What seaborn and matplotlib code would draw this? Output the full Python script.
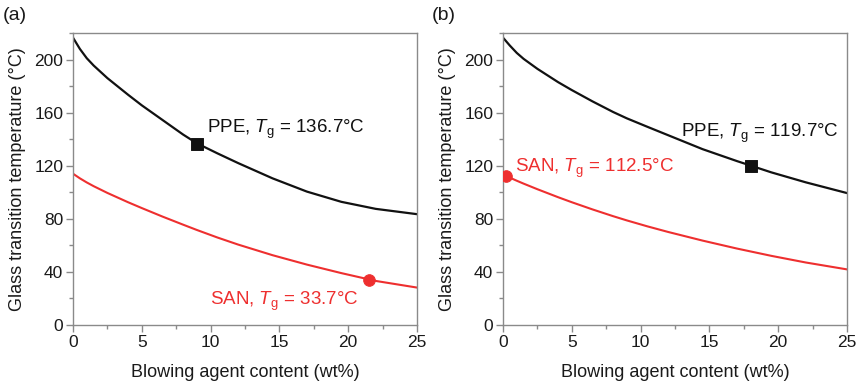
import matplotlib
matplotlib.use("Agg")
import matplotlib.pyplot as plt
import seaborn as sns
import pandas as pd
from matplotlib.ticker import MultipleLocator

# ---- data ----
x_grid = [0, 0.5, 1, 1.5, 2.5, 4, 5, 6.5, 8, 9, 10.5, 12, 14.5, 17, 19.5, 22, 25]

ppe_a = [216.5, 208, 201, 195.5, 186, 173.5, 165.5, 154.5, 143.5, 136.9, 129.3, 122, 110.5, 100.5, 92.8, 87.5, 83.5]
san_a = [114, 110.5, 107.4, 104.6, 99.5, 92.5, 88.1, 81.7, 75.6, 71.6, 65.9, 60.6, 52.6, 45.5, 39.1, 33.2, 28.2]
ppe_b = [216.5, 210.5, 205, 200.5, 193, 183, 177, 168.5, 160.5, 155.7, 149.3, 143, 132.5, 123.5, 115, 107.5, 99.4]
san_b = [113.5, 111, 108.7, 106.5, 102.3, 96.3, 92.5, 87.1, 82, 78.8, 74.3, 70.1, 63.6, 57.6, 52.1, 47.1, 41.9]

marker_a_ppe = (9.0, 136.7)
marker_a_san = (21.5, 33.7)
marker_b_ppe = (18.0, 119.7)
marker_b_san = (0.25, 112.5)

label_a_ppe = "136.7"
label_a_san = "33.7"
label_b_ppe = "119.7"
label_b_san = "112.5"

panel_labels = ["(a)", "(b)"]
xlabel = "Blowing agent content (wt%)"
ylabel = "Glass transition temperature (°C)"

# ---- style ----
sns.set_style("ticks")
plt.rcParams["font.family"] = ["Liberation Sans", "DejaVu Sans"]
plt.rcParams["mathtext.fontset"] = "custom"
plt.rcParams["mathtext.rm"] = "Liberation Sans"
plt.rcParams["mathtext.it"] = "Liberation Sans:italic"

RED = "#ee2f2f"
BLACK = "#111111"
SPINE = "#8a8a8a"
TXT = "#1a1a1a"

fig = plt.figure(figsize=(8.6, 3.89), dpi=100)
ax_a = fig.add_axes([73 / 860, 1 - 325 / 389, 344 / 860, 292 / 389])
ax_b = fig.add_axes([503 / 860, 1 - 325 / 389, 344 / 860, 292 / 389])

def draw(ax, ppe, san, mppe, msan):
    df = pd.DataFrame({"x": x_grid, "PPE": ppe, "SAN": san})
    sns.lineplot(data=df, x="x", y="PPE", ax=ax, color=BLACK, lw=1.6)
    sns.lineplot(data=df, x="x", y="SAN", ax=ax, color=RED, lw=1.5)
    sns.scatterplot(x=[mppe[0]], y=[mppe[1]], ax=ax, marker="s", s=70,
                    color=BLACK, edgecolor=BLACK, zorder=5)
    sns.scatterplot(x=[msan[0]], y=[msan[1]], ax=ax, marker="o", s=70,
                    color=RED, edgecolor=RED, zorder=5)
    ax.set_xlim(0, 25)
    ax.set_ylim(0, 220)
    ax.xaxis.set_major_locator(MultipleLocator(5))
    ax.xaxis.set_minor_locator(MultipleLocator(2.5))
    ax.yaxis.set_major_locator(MultipleLocator(40))
    ax.yaxis.set_minor_locator(MultipleLocator(20))
    ax.tick_params(which="major", direction="out", length=5, width=1,
                   color=SPINE, labelsize=12.5, labelcolor=TXT, pad=2)
    ax.tick_params(which="minor", direction="out", length=3, width=1, color=SPINE)
    for s in ax.spines.values():
        s.set_visible(True)
        s.set_color(SPINE)
        s.set_linewidth(1)
    ax.set_xlabel(xlabel, fontsize=13, color=TXT, labelpad=10)
    ax.set_ylabel(ylabel, fontsize=13, color=TXT, labelpad=6)

draw(ax_a, ppe_a, san_a, marker_a_ppe, marker_a_san)
draw(ax_b, ppe_b, san_b, marker_b_ppe, marker_b_san)

fs = 13.5
ax_a.text(9.75, 144.7, r"PPE, $T_\mathregular{g}$ = " + label_a_ppe + "°C",
          fontsize=fs, color=BLACK, va="baseline", ha="left")
ax_a.text(9.95, 15.1, r"SAN, $T_\mathregular{g}$ = " + label_a_san + "°C",
          fontsize=fs, color=RED, va="baseline", ha="left")
ax_b.text(12.9, 142, r"PPE, $T_\mathregular{g}$ = " + label_b_ppe + "°C",
          fontsize=fs, color=BLACK, va="baseline", ha="left")
ax_b.text(0.87, 115, r"SAN, $T_\mathregular{g}$ = " + label_b_san + "°C",
          fontsize=fs, color=RED, va="baseline", ha="left")

fig.text(3 / 860, 1 - 16 / 389, panel_labels[0], fontsize=14, va="center", ha="left", color=TXT)
fig.text(432 / 860, 1 - 16 / 389, panel_labels[1], fontsize=14, va="center", ha="left", color=TXT)

fig.savefig("out.png", dpi=100)
